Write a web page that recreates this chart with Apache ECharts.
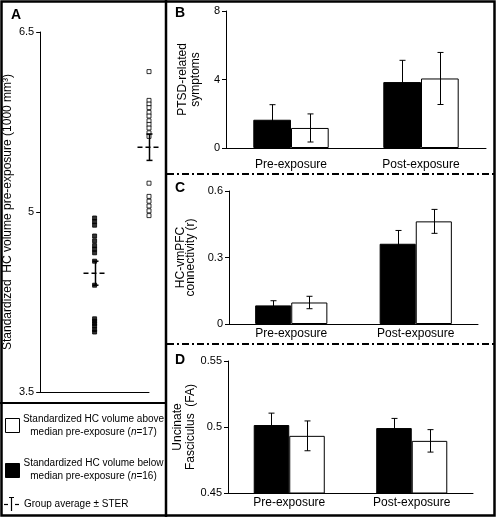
<!DOCTYPE html>
<html><head><meta charset="utf-8">
<script src="https://cdn.jsdelivr.net/npm/echarts@6/dist/echarts.min.js"></script>
<style>html,body{margin:0;padding:0;background:#fff}#c{width:497px;height:519px}</style>
</head><body><div id="c"></div>
<script>
// Panel A data
const groupsA = ['', 'Below median', 'Above median'];
const belowPts = [4.95,4.92,4.89,4.80,4.76,4.72,4.69,4.66,4.59,4.39,4.11,4.09,4.07,4.05,4.02,4.00];
const abovePts = [6.17,5.93,5.90,5.87,5.83,5.80,5.76,5.73,5.70,5.66,5.63,5.24,5.13,5.09,5.05,5.01,4.97];
const groupMeans = [4.49, 5.54];
const groupSE = [0.10, 0.11];
const aTicks = [3.5, 5, 6.5];

// Panels B-D data
const phases = ['Pre-exposure', 'Post-exposure'];
const ptsdBelow = [1.65, 3.85], ptsdBelowSE = [0.88, 1.27];
const ptsdAbove = [1.17, 4.06], ptsdAboveSE = [0.82, 1.52];
const bTicks = [0, 4, 8];
const connBelow = [0.084, 0.362], connBelowSE = [0.021, 0.06];
const connAbove = [0.097, 0.463], connAboveSE = [0.028, 0.054];
const cTicks = [0, 0.3, 0.6];
const ufBelow = [0.5015, 0.4992], ufBelowSE = [0.009, 0.0073];
const ufAbove = [0.4933, 0.4895], ufAboveSE = [0.0113, 0.0085];
const dTicks = [0.45, 0.5, 0.55];

const FONT = 'Liberation Sans, Arial, sans-serif';
const chart = echarts.init(document.getElementById('c'));

function yAx(idx, min, max, ticks, name, gap, lh) {
  return {
    type: 'value', gridIndex: idx, min: min, max: max,
    axisLine: {show: true, lineStyle: {color: '#000', width: 1}},
    axisTick: {show: true, length: 4, lineStyle: {color: '#000'}, customValues: ticks},
    axisLabel: {color: '#000', fontSize: 11, fontFamily: FONT, margin: 6, customValues: ticks,
      formatter: v => String(+v.toFixed(2))},
    splitLine: {show: false},
    name: name, nameLocation: 'middle', nameRotate: 90, nameGap: gap,
    nameTextStyle: {color: '#000', fontSize: 12, fontFamily: FONT, lineHeight: lh}
  };
}
function xAx(idx, data, showLabels, margin) {
  return {
    type: 'category', gridIndex: idx, data: data, boundaryGap: showLabels,
    axisLine: {show: true, onZero: false, lineStyle: {color: '#000', width: 1}},
    axisTick: {show: false},
    axisLabel: {show: showLabels, color: '#000', fontSize: 12, fontFamily: FONT, margin: margin},
    splitLine: {show: false}
  };
}
function barS(idx, vals, fill) {
  return {
    type: 'bar', xAxisIndex: idx, yAxisIndex: idx, data: vals, clip: true,
    barGap: '0%', barCategoryGap: '42%',
    itemStyle: {color: fill, borderColor: '#000', borderWidth: 1},
    emphasis: {disabled: true}, silent: true
  };
}
function errS(idx, means, ses, side) {
  return {
    type: 'custom', xAxisIndex: idx, yAxisIndex: idx, z: 10, silent: true,
    data: means.map((m, i) => [i, m, ses[i]]),
    renderItem: function (params, api) {
      const i = api.value(0), m = api.value(1), s = api.value(2);
      const band = api.size([1, 0])[0];
      const off = side * band * 0.145;
      const top = api.coord([i, m + s]), bot = api.coord([i, m - s]);
      const x = Math.round(top[0] + off) + 0.5, c = 3;
      const st = {stroke: '#000', lineWidth: 1};
      return {type: 'group', children: [
        {type: 'line', shape: {x1: x, y1: top[1], x2: x, y2: bot[1]}, style: st},
        {type: 'line', shape: {x1: x - c, y1: top[1], x2: x + c, y2: top[1]}, style: st},
        {type: 'line', shape: {x1: x - c, y1: bot[1], x2: x + c, y2: bot[1]}, style: st}
      ]};
    }
  };
}

const option = {
  animation: false,
  backgroundColor: '#fff',
  textStyle: {fontFamily: FONT},
  grid: [
    {left: 40, top: 32, width: 109, height: 360},
    {left: 226, top: 11, width: 260, height: 137},
    {left: 229, top: 191, width: 249, height: 133},
    {left: 228, top: 361, width: 245, height: 132}
  ],
  xAxis: [xAx(0, groupsA, false, 8), xAx(1, phases, true, 11), xAx(2, phases, true, 4), xAx(3, phases, true, 4)],
  yAxis: [
    yAx(0, 3.5, 6.5, aTicks, 'Standardized  HC volume pre-exposure (1000 mm\u00B3)', 14, 14),
    yAx(1, 0, 8, bTicks, 'PTSD-related\nsymptoms', 24, 13),
    yAx(2, 0, 0.6, cTicks, 'HC-vmPFC\nconnectivity (r)', 24, 10),
    yAx(3, 0.45, 0.55, dTicks, 'Uncinate\nFasciculus  (FA)', 24, 13)
  ],
  series: [
    {type: 'scatter', xAxisIndex: 0, yAxisIndex: 0, symbol: 'rect', symbolSize: 4, silent: true,
      data: belowPts.map(v => [groupsA[1], v]), itemStyle: {color: '#000', borderColor: '#000', borderWidth: 1}},
    {type: 'scatter', xAxisIndex: 0, yAxisIndex: 0, symbol: 'rect', symbolSize: 4, silent: true,
      data: abovePts.map(v => [groupsA[2], v]), itemStyle: {color: '#fff', borderColor: '#000', borderWidth: 1}},
    {type: 'custom', xAxisIndex: 0, yAxisIndex: 0, z: 10, silent: true,
      data: groupMeans.map((m, i) => [i + 1, m, groupSE[i]]),
      renderItem: function (params, api) {
        const i = api.value(0), m = api.value(1), s = api.value(2);
        const mid = api.coord([i, m]), top = api.coord([i, m + s]), bot = api.coord([i, m - s]);
        const x = Math.round(mid[0]) + 0.5, c = 3;
        const st = {stroke: '#000', lineWidth: 1.5};
        return {type: 'group', children: [
          {type: 'line', shape: {x1: x, y1: top[1], x2: x, y2: bot[1]}, style: st},
          {type: 'line', shape: {x1: x - c, y1: top[1], x2: x + c, y2: top[1]}, style: st},
          {type: 'line', shape: {x1: x - c, y1: bot[1], x2: x + c, y2: bot[1]}, style: st},
          {type: 'line', shape: {x1: x - 12, y1: mid[1], x2: x + 12, y2: mid[1]}, style: {stroke: '#000', lineWidth: 1.5, lineDash: [5, 3]}}
        ]};
      }
    },
    barS(1, ptsdBelow, '#000'), barS(1, ptsdAbove, '#fff'),
    errS(1, ptsdBelow, ptsdBelowSE, -1), errS(1, ptsdAbove, ptsdAboveSE, 1),
    barS(2, connBelow, '#000'), barS(2, connAbove, '#fff'),
    errS(2, connBelow, connBelowSE, -1), errS(2, connAbove, connAboveSE, 1),
    barS(3, ufBelow, '#000'), barS(3, ufAbove, '#fff'),
    errS(3, ufBelow, ufBelowSE, -1), errS(3, ufAbove, ufAboveSE, 1)
  ],
  graphic: [
    {type: 'rect', shape: {x: 1.5, y: 1.5, width: 493, height: 514}, style: {fill: 'none', stroke: '#000', lineWidth: 2.5}, silent: true},
    {type: 'line', shape: {x1: 166, y1: 0, x2: 166, y2: 517}, style: {stroke: '#000', lineWidth: 2.5}, silent: true},
    {type: 'line', shape: {x1: 0, y1: 403, x2: 166, y2: 403}, style: {stroke: '#000', lineWidth: 2}, silent: true},
    {type: 'line', shape: {x1: 167, y1: 174, x2: 494, y2: 174}, style: {stroke: '#000', lineWidth: 2, lineDash: [7, 3, 2, 3]}, silent: true},
    {type: 'line', shape: {x1: 167, y1: 344, x2: 494, y2: 344}, style: {stroke: '#000', lineWidth: 2, lineDash: [7, 3, 2, 3]}, silent: true},
    {type: 'text', x: 11, y: 15, style: {text: 'A', font: 'bold 14px ' + FONT, fill: '#000', verticalAlign: 'middle'}, silent: true},
    {type: 'text', x: 175, y: 13.5, style: {text: 'B', font: 'bold 14px ' + FONT, fill: '#000', verticalAlign: 'middle'}, silent: true},
    {type: 'text', x: 175, y: 188.5, style: {text: 'C', font: 'bold 14px ' + FONT, fill: '#000', verticalAlign: 'middle'}, silent: true},
    {type: 'text', x: 175, y: 360.5, style: {text: 'D', font: 'bold 14px ' + FONT, fill: '#000', verticalAlign: 'middle'}, silent: true},
    // legend
    {type: 'rect', shape: {x: 5.5, y: 418.5, width: 14, height: 14}, style: {fill: '#fff', stroke: '#000', lineWidth: 1}, silent: true},
    {type: 'text', x: 93.5, y: 425.5, style: {
      text: 'Standardized HC volume above\nmedian pre-exposure ({i|n}=17)',
      rich: {i: {fontStyle: 'italic', fontSize: 10, fontFamily: FONT}},
      font: '10px ' + FONT, fill: '#000', align: 'center', verticalAlign: 'middle', lineHeight: 13}, silent: true},
    {type: 'rect', shape: {x: 5.5, y: 463.5, width: 14, height: 14}, style: {fill: '#000', stroke: '#000', lineWidth: 1}, silent: true},
    {type: 'text', x: 93.5, y: 470, style: {
      text: 'Standardized HC volume below\nmedian pre-exposure ({i|n}=16)',
      rich: {i: {fontStyle: 'italic', fontSize: 10, fontFamily: FONT}},
      font: '10px ' + FONT, fill: '#000', align: 'center', verticalAlign: 'middle', lineHeight: 13}, silent: true},
    {type: 'line', shape: {x1: 11.5, y1: 497, x2: 11.5, y2: 511}, style: {stroke: '#000', lineWidth: 1.2}, silent: true},
    {type: 'line', shape: {x1: 9, y1: 497.5, x2: 14, y2: 497.5}, style: {stroke: '#000', lineWidth: 1}, silent: true},
    {type: 'line', shape: {x1: 4, y1: 504.5, x2: 8, y2: 504.5}, style: {stroke: '#000', lineWidth: 1.2}, silent: true},
    {type: 'line', shape: {x1: 15, y1: 504.5, x2: 19, y2: 504.5}, style: {stroke: '#000', lineWidth: 1.2}, silent: true},
    {type: 'text', x: 24, y: 504, style: {text: 'Group average \u00B1 STER', font: '10px ' + FONT, fill: '#000', verticalAlign: 'middle'}, silent: true}
  ]
};
chart.setOption(option);
</script>
</body></html>
